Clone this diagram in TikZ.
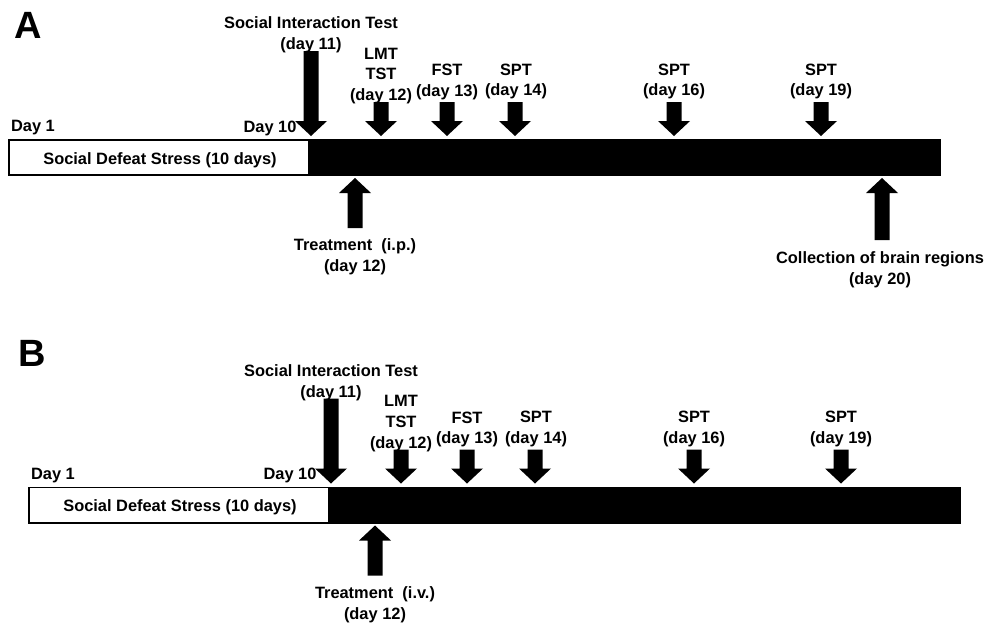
\documentclass[tikz,border=0pt]{standalone}
\usepackage{fontspec}
\setmainfont{Liberation Sans}
\newcommand\arrdown[3]{%
  \fill (#1-7.5,#2) -- (#1+7.5,#2) -- (#1+7.5,#3-15) -- (#1+16,#3-15) -- (#1,#3) -- (#1-16,#3-15) -- (#1-7.5,#3-15) -- cycle;}
\newcommand\arrup[3]{%
  \fill (#1-7.5,#2) -- (#1+7.5,#2) -- (#1+7.5,#3+15) -- (#1+16,#3+15) -- (#1,#3) -- (#1-16,#3+15) -- (#1-7.5,#3+15) -- cycle;}
\begin{document}
\begin{tikzpicture}[x=1pt,y=-1pt,
  lbl/.style={font=\bfseries\fontsize{16.4}{20.8}\selectfont, align=center, inner sep=0pt},
  panellbl/.style={font=\bfseries\fontsize{38}{40}\selectfont, inner sep=0pt},
  sdsbox/.style={draw=black, line width=1.8pt, fill=white, inner sep=0pt}
]
\useasboundingbox (0,0) rectangle (987,622);

% ---------- Panel A ----------
\node[panellbl] (A) at (28,25) {A};
\fill (309,139) rectangle (941,176);
\draw[sdsbox] (8.9,139.9) rectangle (309,175.1);
\node[lbl] (sdsA) at (160,160) {Social Defeat Stress (10 days)};
\node[lbl] (d1A) at (33,128) {Day 1};
\node[lbl] (d10A) at (270,128) {Day 10};
\node[lbl] (siA) at (311,35) {Social Interaction Test\\(day 11)};
\node[lbl] (lmtA) at (381,76) {LMT\\TST\\(day 12)};
\node[lbl] (fstA) at (447,82) {FST\\(day 13)};
\node[lbl] (s14A) at (516,81.5) {SPT\\(day 14)};
\node[lbl] (s16A) at (674,81.5) {SPT\\(day 16)};
\node[lbl] (s19A) at (821,81.5) {SPT\\(day 19)};
\node[lbl] (trA) at (355,257) {Treatment~~(i.p.)\\(day 12)};
\node[lbl] (colA) at (880,269.5) {Collection of brain regions\\(day 20)};
\arrdown{311}{51}{136}
\arrdown{381}{102}{136}
\arrdown{447}{102}{136}
\arrdown{515}{102}{136}
\arrdown{674}{102}{136}
\arrdown{821}{102}{136}
\arrup{355}{228}{178}
\arrup{882}{240}{178}

% ---------- Panel B ----------
\node[panellbl] (B) at (32,353) {B};
\begin{scope}[shift={(20,347.5)}]
\fill (309,139) rectangle (941,176);
\draw[sdsbox] (8.9,139.9) rectangle (309,175.1);
\node[lbl] (sdsB) at (160,160) {Social Defeat Stress (10 days)};
\node[lbl] (d1B) at (33,128) {Day 1};
\node[lbl] (d10B) at (270,128) {Day 10};
\node[lbl] (siB) at (311,35) {Social Interaction Test\\(day 11)};
\node[lbl] (lmtB) at (381,76) {LMT\\TST\\(day 12)};
\node[lbl] (fstB) at (447,82) {FST\\(day 13)};
\node[lbl] (s14B) at (516,81.5) {SPT\\(day 14)};
\node[lbl] (s16B) at (674,81.5) {SPT\\(day 16)};
\node[lbl] (s19B) at (821,81.5) {SPT\\(day 19)};
\node[lbl] (trB) at (355,257) {Treatment~~(i.v.)\\(day 12)};
\arrdown{311}{51}{136}
\arrdown{381}{102}{136}
\arrdown{447}{102}{136}
\arrdown{515}{102}{136}
\arrdown{674}{102}{136}
\arrdown{821}{102}{136}
\arrup{355}{228}{178}
\end{scope}
\end{tikzpicture}
\end{document}
